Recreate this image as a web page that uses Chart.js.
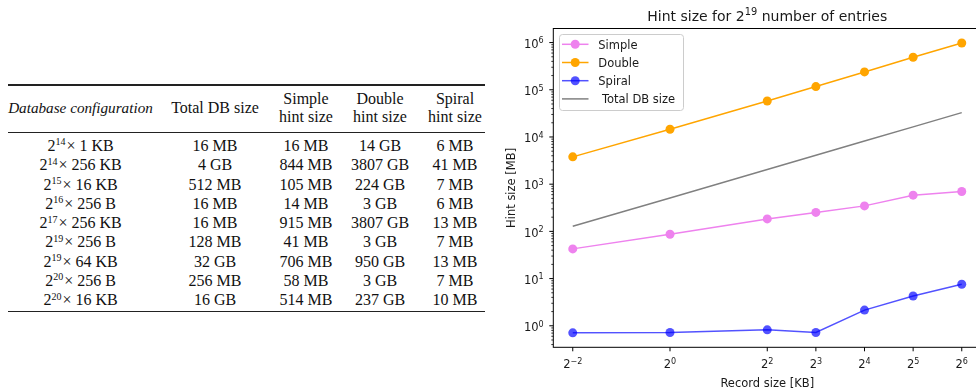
<!DOCTYPE html>
<html>
<head>
<meta charset="utf-8">
<script src="https://cdn.jsdelivr.net/npm/chart.js@4.4.1/dist/chart.umd.min.js"></script>
<style>
  html, body { margin: 0; padding: 0; background: #fff; width: 976px; height: 390px; overflow: hidden; }
  #config-table { position: absolute; left: 8px; top: 0; width: 477px; height: 390px;
    font-family: "Liberation Serif", "DejaVu Serif", serif; font-size: 16px; color: #111; }
  .rule { position: absolute; left: 0; width: 477px; background: #222; }
  table { position: absolute; left: 0; border-collapse: collapse; table-layout: fixed; width: 477px; }
  th, td { padding: 0; text-align: center; white-space: nowrap; font-weight: normal; overflow: visible; }
  thead th { line-height: 18.4px; height: 36.8px; vertical-align: middle; }
  tbody td { line-height: 19.3px; height: 19.3px; }
  th.italic { font-style: italic; font-size: 15.2px; }
  sup { font-size: 10px; line-height: 0; vertical-align: baseline; position: relative; top: -5.7px; margin-right: 1px; }
  #chart-box { position: absolute; left: 500px; top: 0; width: 490px; height: 390px; }
</style>
</head>
<body>
<div id="config-table">
  <div class="rule" style="top:84.4px;height:1.4px"></div>
  <table id="head-table" style="top:90px"><colgroup></colgroup><thead><tr></tr></thead></table>
  <div class="rule" style="top:131.8px;height:0.9px"></div>
  <table id="body-table" style="top:136px"><colgroup></colgroup><tbody></tbody></table>
  <div class="rule" style="top:310.8px;height:1.4px"></div>
</div>
<div id="chart-box"><canvas id="hint-chart" width="490" height="390"></canvas></div>

<script>
// ---- Table: database configurations and resulting hint sizes ----
const tableHeaders = ['Database configuration', 'Total DB size', 'Simple<br>hint size', 'Double<br>hint size', 'Spiral<br>hint size'];
const columnWidths = [145, 124, 58, 90, 60];
const entryExponents = ['14', '14', '15', '16', '17', '19', '19', '20', '20'];
const recordSizes = ['1 KB', '256 KB', '16 KB', '256 B', '256 KB', '256 B', '64 KB', '256 B', '16 KB'];
const totalDbSizes = ['16 MB', '4 GB', '512 MB', '16 MB', '16 MB', '128 MB', '32 GB', '256 MB', '16 GB'];
const simpleHintSizes = ['16 MB', '844 MB', '105 MB', '14 MB', '915 MB', '41 MB', '706 MB', '58 MB', '514 MB'];
const doubleHintSizes = ['14 GB', '3807 GB', '224 GB', '3 GB', '3807 GB', '3 GB', '950 GB', '3 GB', '237 GB'];
const spiralHintSizes = ['6 MB', '41 MB', '7 MB', '6 MB', '13 MB', '7 MB', '13 MB', '7 MB', '10 MB'];

// ---- Chart: hint size vs record size for 2^19 entries ----
const recordSizesKB = [0.25, 1, 4, 8, 16, 32, 64];
const simpleHintMB = [42.6, 87, 184, 252, 347, 585, 700];
const doubleHintMB = [3790, 14600, 58000, 117000, 239000, 489000, 980000];
const spiralHintMB = [0.71, 0.72, 0.82, 0.72, 2.15, 4.27, 7.6];
const totalDbMB = [128, 512, 2048, 4096, 8192, 16384, 32768];
const seriesLabels = ['Simple', 'Double', 'Spiral', ' Total DB size'];
const xTickExponents = [-2, 0, 2, 3, 4, 5, 6];
const yTickExponents = [0, 1, 2, 3, 4, 5, 6];

function buildTable() {
  [document.querySelector('#head-table colgroup'), document.querySelector('#body-table colgroup')].forEach(cg => {
    columnWidths.forEach(w => { const c = document.createElement('col'); c.style.width = w + 'px'; cg.appendChild(c); });
  });
  const headRow = document.querySelector('#head-table thead tr');
  tableHeaders.forEach((h, i) => {
    const th = document.createElement('th');
    th.innerHTML = h;
    if (i === 0) th.className = 'italic';
    headRow.appendChild(th);
  });
  const body = document.querySelector('#body-table tbody');
  entryExponents.forEach((e, r) => {
    const tr = document.createElement('tr');
    const cells = ['2<sup>' + e + '</sup>× ' + recordSizes[r], totalDbSizes[r], simpleHintSizes[r], doubleHintSizes[r], spiralHintSizes[r]];
    cells.forEach(c => { const td = document.createElement('td'); td.innerHTML = c; tr.appendChild(td); });
    body.appendChild(tr);
  });
}
buildTable();

const FONT = '"DejaVu Sans", sans-serif';
const TEXT = '#1a1a1a';

// Draw text runs where some runs are superscripts (mathtext-like).
function drawRuns(ctx, runs, x, baseline, align, size) {
  const supSize = size * 0.7;
  const widths = runs.map(r => { ctx.font = (r.sup ? supSize : size) + 'px ' + FONT; return ctx.measureText(r.t).width; });
  const total = widths.reduce((a, b) => a + b, 0);
  let cx = align === 'right' ? x - total : align === 'center' ? x - total / 2 : x;
  ctx.textAlign = 'left';
  ctx.textBaseline = 'alphabetic';
  runs.forEach((r, i) => {
    ctx.font = (r.sup ? supSize : size) + 'px ' + FONT;
    ctx.fillText(r.t, cx, r.sup ? baseline - size * 0.38 : baseline);
    cx += widths[i];
  });
}

const axesDecor = {
  id: 'axesDecor',
  afterDatasetsDraw(chart) {
    const { ctx, chartArea: a, scales: { x, y } } = chart;
    ctx.save();
    ctx.fillStyle = TEXT;
    ctx.strokeStyle = '#000';
    ctx.lineWidth = 1;
    // frame (spines)
    ctx.strokeRect(a.left, a.top, a.right - a.left, a.bottom - a.top);
    const tickFont = 11.5;
    // y major ticks and labels
    yTickExponents.forEach(p => {
      const py = y.getPixelForValue(Math.pow(10, p));
      ctx.beginPath(); ctx.moveTo(a.left - 4, py); ctx.lineTo(a.left, py); ctx.stroke();
      drawRuns(ctx, [{ t: '10' }, { t: String(p), sup: true }], a.left - 9.6, py + 5.2, 'right', tickFont);
    });
    // y minor ticks
    for (let p = Math.floor(Math.log10(y.min)); p <= Math.ceil(Math.log10(y.max)); p++) {
      for (let k = 2; k <= 9; k++) {
        const v = k * Math.pow(10, p);
        if (v < y.min || v > y.max) continue;
        const py = y.getPixelForValue(v);
        ctx.beginPath(); ctx.lineWidth = 0.8; ctx.moveTo(a.left - 2, py); ctx.lineTo(a.left, py); ctx.stroke();
      }
    }
    ctx.lineWidth = 1;
    // x ticks and labels
    xTickExponents.forEach(p => {
      const px = x.getPixelForValue(p);
      ctx.beginPath(); ctx.moveTo(px, a.bottom); ctx.lineTo(px, a.bottom + 4); ctx.stroke();
      drawRuns(ctx, [{ t: '2' }, { t: String(p).replace('-', '\u2212'), sup: true }], px, a.bottom + 20.7, 'center', tickFont);
    });
    // axis titles
    const cx = (a.left + a.right) / 2;
    drawRuns(ctx, [{ t: 'Record size [KB]' }], cx, a.bottom + 39.4, 'center', 11.5);
    ctx.save();
    ctx.translate(15, (a.top + a.bottom) / 2);
    ctx.rotate(-Math.PI / 2);
    drawRuns(ctx, [{ t: 'Hint size [MB]' }], 0, 0, 'center', 11.5);
    ctx.restore();
    // chart title
    drawRuns(ctx, [{ t: 'Hint size for 2' }, { t: '19', sup: true }, { t: ' number of entries' }], cx, 20.7, 'center', 14);
    ctx.restore();
  },
  afterDraw(chart) {
    // legend in the upper-left corner of the axes
    const { ctx, chartArea: a } = chart;
    const bx = a.left + 5.7, by = a.top + 5.5, bw = 124, bh = 76;
    ctx.save();
    ctx.fillStyle = 'rgba(255,255,255,0.8)';
    ctx.strokeStyle = '#cccccc';
    ctx.lineWidth = 1;
    ctx.beginPath();
    ctx.roundRect(bx + 0.5, by + 0.5, bw, bh, 3);
    ctx.fill(); ctx.stroke();
    chart.data.datasets.forEach((ds, i) => {
      const ry = by + 10.3 + i * 18.2;
      ctx.strokeStyle = ds.borderColor;
      ctx.lineWidth = ds.borderWidth;
      ctx.beginPath(); ctx.moveTo(bx + 3, ry); ctx.lineTo(bx + 29.5, ry); ctx.stroke();
      if (ds.pointRadius > 0) {
        ctx.fillStyle = ds.pointBackgroundColor;
        ctx.beginPath(); ctx.arc(bx + 16.2, ry, ds.pointRadius, 0, Math.PI * 2); ctx.fill();
      }
      ctx.fillStyle = TEXT;
      ctx.font = '11.5px ' + FONT;
      ctx.textAlign = 'left';
      ctx.textBaseline = 'alphabetic';
      ctx.fillText(ds.label, bx + 39.3, ry + 4.4);
    });
    ctx.restore();
  }
};

function series(label, values, color, radius) {
  return {
    label,
    data: values.map((v, i) => ({ x: Math.log2(recordSizesKB[i]), y: v })),
    borderColor: color,
    backgroundColor: color,
    pointBackgroundColor: color,
    pointBorderWidth: 0,
    pointRadius: radius,
    pointHoverRadius: radius,
    borderWidth: 1.5,
    tension: 0,
    fill: false
  };
}

// matplotlib-style 5% margins on the log axes
const allValues = [].concat(simpleHintMB, doubleHintMB, spiralHintMB, totalDbMB);
const lo = Math.log10(Math.min(...allValues)), hi = Math.log10(Math.max(...allValues));
const yMin = Math.pow(10, lo - 0.05 * (hi - lo)), yMax = Math.pow(10, hi + 0.05 * (hi - lo));
const xl = Math.log2(recordSizesKB[0]), xh = Math.log2(recordSizesKB[recordSizesKB.length - 1]);
const xMin = xl - 0.05 * (xh - xl), xMax = xh + 0.05 * (xh - xl);

new Chart(document.getElementById('hint-chart'), {
  type: 'line',
  data: {
    datasets: [
      series(seriesLabels[0], simpleHintMB, '#ee82ee', 4.5),
      series(seriesLabels[1], doubleHintMB, '#ffa500', 4.5),
      series(seriesLabels[2], spiralHintMB, 'rgba(0,0,255,0.68)', 4.5),
      series(seriesLabels[3], totalDbMB, '#808080', 0)
    ]
  },
  options: {
    responsive: false,
    animation: false,
    devicePixelRatio: 1,
    layout: { padding: { left: 53.3, top: 28.5, right: 8.8, bottom: 42.7 } },
    plugins: { legend: { display: false }, title: { display: false }, tooltip: { enabled: false } },
    scales: {
      x: { type: 'linear', display: false, min: xMin, max: xMax, bounds: 'data' },
      y: { type: 'logarithmic', display: false, min: yMin, max: yMax, bounds: 'data' }
    }
  },
  plugins: [axesDecor]
});
</script>
</body>
</html>
